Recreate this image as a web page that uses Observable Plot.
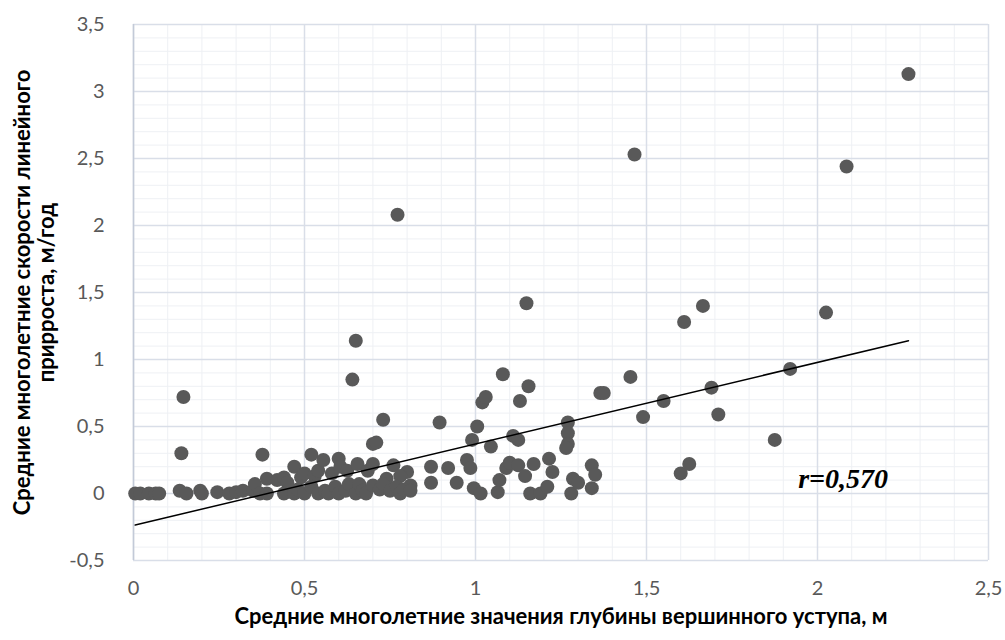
<!DOCTYPE html>
<html><head><meta charset="utf-8">
<script src="https://cdn.jsdelivr.net/npm/d3@7"></script>
<script src="https://cdn.jsdelivr.net/npm/@observablehq/plot@0.6"></script>
<style>body{margin:0;background:#fff;}</style>
</head><body><div id="chart"></div>
<script>
const xs = [0.005,0.02,0.045,0.065,0.075,0.135,0.155,0.195,0.20,0.245,0.28,0.30,0.32,0.35,0.355,0.37,0.39,
0.146,0.14,0.377,
0.39,0.42,0.44,0.45,0.47,0.49,0.50,0.52,0.53,0.54,0.555,0.58,0.60,0.605,0.625,0.655,0.685,0.70,0.70,0.71,0.73,0.74,0.76,0.80,0.81,0.78,
0.44,0.47,0.48,0.50,0.52,0.54,0.56,0.57,0.59,0.60,0.62,0.63,0.65,0.66,0.67,0.68,0.70,0.72,0.73,0.75,0.77,0.78,0.79,0.81,
0.64,0.65,0.772,
0.87,0.87,0.895,0.92,0.945,0.975,0.985,0.99,0.995,1.005,1.015,1.02,1.03,1.045,1.065,1.07,1.08,1.09,1.10,1.11,1.125,1.125,1.13,1.145,1.149,1.155,1.16,1.17,1.19,1.21,1.215,1.225,1.27,1.27,1.27,1.265,1.285,1.28,1.30,1.34,1.35,1.34,1.365,1.375,
1.453,1.465,1.49,1.55,1.60,1.61,1.625,1.665,1.69,1.71,1.875,1.92,2.025,2.085,2.266];
const ys = [0,0,0,0,0,0.02,0,0.02,0,0.01,0,0.01,0.02,0.02,0.07,0,0,
0.72,0.30,0.29,
0.11,0.10,0.12,0.08,0.20,0.12,0.15,0.29,0.13,0.17,0.25,0.15,0.26,0.20,0.17,0.22,0.17,0.22,0.37,0.38,0.55,0.11,0.21,0.16,0.06,0.13,
0,0,0.03,0,0.05,0,0.02,0,0.05,0,0.02,0.07,0,0.07,0.02,0,0.06,0.03,0.07,0.02,0.05,0,0.03,0.02,
0.85,1.14,2.08,
0.20,0.08,0.53,0.19,0.08,0.25,0.19,0.40,0.04,0.50,0,0.68,0.72,0.35,0.01,0.10,0.89,0.19,0.23,0.43,0.40,0.21,0.69,0.13,1.42,0.80,0,0.22,0,0.05,0.26,0.16,0.53,0.45,0.37,0.34,0.11,0,0.08,0.21,0.14,0.04,0.75,0.75,
0.87,2.53,0.57,0.69,0.15,1.28,0.22,1.40,0.79,0.59,0.40,0.93,1.35,2.44,3.13];
const xTicks = [0,0.5,1,1.5,2,2.5];
const yTicks = [-0.5,0,0.5,1,1.5,2,2.5,3,3.5];
const trendX = [0.005, 2.266];
const trendY = [-0.235, 1.14];
const rLabel = "r=0,570";
const xTitle = "Средние многолетние значения глубины вершинного уступа, м";
const yTitle = "Средние многолетние скорости линейного\nприрроста, м/год";

const pts = xs.map((x,i)=>({x, y: ys[i]}));
const trend = trendX.map((x,i)=>({x, y: trendY[i]}));
const minorX = d3.range(0, 2.5001, 0.1).map(v=>+v.toFixed(2));
const minorY = d3.range(-0.5, 3.5001, 0.1).map(v=>+v.toFixed(2));
const fmt = d => String(d).replace(".", ",");

const chart = Plot.plot({
  width: 1005, height: 640,
  marginLeft: 133, marginRight: 17, marginTop: 24, marginBottom: 80,
  style: {fontFamily: "Lato, sans-serif", background: "#fff"},
  x: {domain: [0, 2.5]},
  y: {domain: [-0.5, 3.5]},
  marks: [
    Plot.ruleX(minorX, {stroke: "#eef0f4", strokeWidth: 1}),
    Plot.ruleY(minorY, {stroke: "#eef0f4", strokeWidth: 1}),
    Plot.ruleX(xTicks, {stroke: "#d9dee8", strokeWidth: 1.5}),
    Plot.ruleY(yTicks, {stroke: "#d9dee8", strokeWidth: 1.5}),
    Plot.ruleX([0], {stroke: "#c3cad8", strokeWidth: 1.5}),
    Plot.axisX({ticks: xTicks, tickSize: 0, tickPadding: 20, tickFormat: fmt, fontSize: 20, fill: "#595959", label: null}),
    Plot.axisY({ticks: yTicks, tickSize: 0, tickPadding: 29, tickFormat: fmt, fontSize: 20, fill: "#595959", label: null}),
    Plot.dot(pts, {x: "x", y: "y", r: 7, fill: "#595959", stroke: "none"}),
    Plot.line(trend, {x: "x", y: "y", stroke: "#000", strokeWidth: 1.5}),
    Plot.text([rLabel], {x: 2.075, y: 0.11, text: d => d, fontSize: 28, fontWeight: "bold", fontStyle: "italic", fontFamily: "Liberation Serif", fill: "#000"}),
    Plot.text([xTitle], {frameAnchor: "bottom", dy: 56, lineAnchor: "middle", text: d => d, fontSize: 22, fontWeight: "bold", fill: "#000"}),
    Plot.text([yTitle], {frameAnchor: "left", dx: -99, rotate: -90, textAnchor: "middle", lineAnchor: "middle", text: d => d, fontSize: 22, fontWeight: "bold", fill: "#000", lineHeight: 1.1})
  ]
});
document.getElementById("chart").appendChild(chart);
</script></body></html>
